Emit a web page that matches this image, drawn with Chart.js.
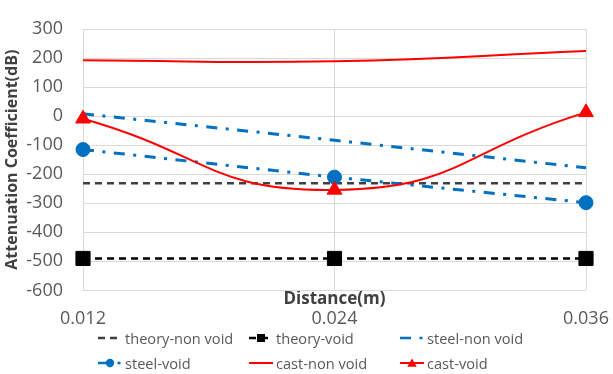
<!DOCTYPE html>
<html>
<head>
<meta charset="utf-8">
<title>Attenuation Coefficient vs Distance</title>
<script src="https://cdn.jsdelivr.net/npm/chart.js"></script>
<style>
  body { margin: 0; background: #fff; font-family: 'Open Sans', sans-serif; }
  .wrap { position: relative; width: 613px; height: 374px; }
  #legend { position: absolute; left: 98px; top: 325.6px; display: grid; grid-template-columns: repeat(3, 151px); font-size: 14.6px; color: #595959; }
  .item { display: flex; align-items: center; height: 24.7px; white-space: nowrap; }
  .item svg { margin-right: 3px; flex: none; }
</style>
</head>
<body>
<div class="wrap">
  <canvas id="chart" width="613" height="374"></canvas>
  <div id="legend"></div>
</div>
<script>
// distance categories (m)
const distances = ['0.012', '0.024', '0.036'];

// attenuation coefficient (dB)
const theoryNonVoid = [-231, -231, -231];
const theoryVoid = [-490, -490, -490];
const steelNonVoid = [8, -83, -178];
const steelVoid = [-115, -210, -298];
const castNonVoid = [192, 189, 224];
const castVoid = [-9, -254, 13];

const yTicks = { min: -600, max: 300, step: 100 };

const FONT = "'Open Sans', sans-serif";
const GRID = '#d9d9d9';

// small svg swatch for the html legend, built from the dataset styling
function swatch(ds) {
  let s = '<svg width="24" height="14" viewBox="0 0 24 14">';
  s += `<line x1="0" y1="7" x2="24" y2="7" stroke="${ds.borderColor}" stroke-width="${Math.min(ds.borderWidth, 2.5)}"`;
  if (ds.borderDash && ds.borderDash.length) s += ` stroke-dasharray="${ds.borderDash.join(' ')}"`;
  s += '/>';
  const f = ds.pointBackgroundColor;
  if (ds.pointRadius > 0) {
    if (ds.pointStyle === 'circle') s += `<circle cx="12" cy="7" r="4.2" fill="${f}"/>`;
    if (ds.pointStyle === 'rect') s += `<rect x="8" y="3" width="8" height="8" fill="${f}"/>`;
    if (ds.pointStyle === 'triangle') s += `<polygon points="12,2.5 16.8,10.8 7.2,10.8" fill="${f}"/>`;
  }
  return s + '</svg>';
}

const htmlLegend = {
  id: 'htmlLegend',
  afterUpdate(chart) {
    const box = document.getElementById('legend');
    box.innerHTML = '';
    chart.data.datasets.forEach(ds => {
      const el = document.createElement('div');
      el.className = 'item';
      el.innerHTML = swatch(ds) + '<span>' + ds.label + '</span>';
      box.appendChild(el);
    });
  }
};

new Chart(document.getElementById('chart'), {
  type: 'line',
  data: {
    labels: distances,
    datasets: [
      { label: 'theory-non void', data: theoryNonVoid, borderColor: '#404040', borderWidth: 2.5, borderDash: [7, 5], pointRadius: 0, order: 5 },
      { label: 'theory-void', data: theoryVoid, borderColor: '#000000', borderWidth: 2.5, borderDash: [7, 5],
        pointStyle: 'rect', pointRadius: 10, pointBackgroundColor: '#000000', pointBorderColor: '#000000', pointBorderWidth: 1, order: 4 },
      { label: 'steel-non void', data: steelNonVoid, borderColor: '#0070c0', borderWidth: 3, borderDash: [11, 8.5, 3, 8.5], pointRadius: 0, order: 3 },
      { label: 'steel-void', data: steelVoid, borderColor: '#0070c0', borderWidth: 3, borderDash: [11, 8.5, 3, 8.5],
        pointStyle: 'circle', pointRadius: 7, pointBackgroundColor: '#0070c0', pointBorderColor: '#0070c0', pointBorderWidth: 1, order: 2 },
      { label: 'cast-non void', data: castNonVoid, borderColor: '#ff0000', borderWidth: 2, tension: 0.5, pointRadius: 0, order: 1 },
      { label: 'cast-void', data: castVoid, borderColor: '#ff0000', borderWidth: 2, tension: 0.5,
        pointStyle: 'triangle', pointRadius: 8.5, pointBackgroundColor: '#ff0000', pointBorderColor: '#ff0000', pointBorderWidth: 1, order: 0 }
    ].map(d => Object.assign({ fill: false, clip: false, borderDash: [] }, d))
  },
  options: {
    responsive: false,
    animation: false,
    devicePixelRatio: 1,
    layout: { padding: { top: 10, right: 27, bottom: 43, left: 0 } },
    plugins: { legend: { display: false }, tooltip: { enabled: false } },
    scales: {
      x: {
        weight: 1,
        ticks: { color: '#595959', font: { family: FONT, size: 18 }, padding: 1, maxRotation: 0 },
        grid: { color: GRID, drawTicks: false },
        border: { display: false }
      },
      xTitle: {
        type: 'category',
        position: 'bottom',
        weight: 0,
        ticks: { display: false },
        grid: { display: false, drawTicks: false },
        border: { display: false },
        title: { display: true, text: 'Distance(m)', color: '#404040', font: { family: FONT, size: 17, weight: 'bold', lineHeight: 1 }, padding: 0 }
      },
      y: {
        min: yTicks.min,
        max: yTicks.max,
        ticks: { stepSize: yTicks.step, color: '#595959', font: { family: FONT, size: 18, lineHeight: 1 }, padding: 20 },
        grid: { color: GRID, drawTicks: false },
        border: { color: GRID },
        title: { display: true, text: 'Attenuation Coefficient(dB)', color: '#404040', font: { family: FONT, size: 16, weight: 'bold' }, padding: { top: 3, bottom: 0 } },
        afterFit(scale) { scale.width = 83; }
      }
    }
  },
  plugins: [htmlLegend]
});
</script>
</body>
</html>
